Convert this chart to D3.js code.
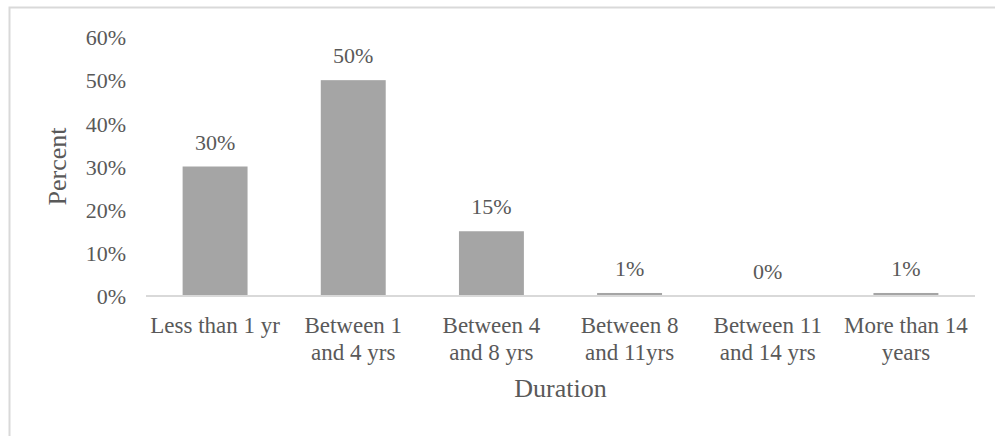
<!DOCTYPE html>
<html>
<head>
<meta charset="utf-8">
<script src="https://cdn.jsdelivr.net/npm/d3@7"></script>
<style>
  html, body { margin: 0; padding: 0; background: #fff; }
  svg { display: block; }
  text { font-family: "Liberation Serif", "Times New Roman", serif; fill: #595959; }
</style>
</head>
<body>
<svg id="chart" width="995" height="436"></svg>
<script>
const categories = [
  ["Less than 1 yr"],
  ["Between 1", "and 4 yrs"],
  ["Between 4", "and 8 yrs"],
  ["Between 8", "and 11yrs"],
  ["Between 11", "and 14 yrs"],
  ["More than 14", "years"]
];
const values = [30, 50, 15, 0.7, 0, 0.7];
const tickValues = [0, 10, 20, 30, 40, 50, 60];
const xTitle = "Duration";
const yTitle = "Percent";

const svg = d3.select("#chart");
const m = { left: 146, top: 37 };
const plotR = 975, plotB = 296;

// frame
svg.append("rect")
  .attr("x", 9.5).attr("y", 7.5)
  .attr("width", 1000).attr("height", 500)
  .attr("fill", "none").attr("stroke", "#d9d9d9").attr("stroke-width", 2);

const x = d3.scaleBand()
  .domain(d3.range(categories.length))
  .range([m.left, plotR])
  .paddingInner(0.53).paddingOuter(0.265);

const y = d3.scaleLinear().domain([0, 60]).range([plotB, m.top]);

// y axis labels
const yAxis = d3.axisLeft(y).tickValues(tickValues).tickFormat(d => d + "%").tickSize(0).tickPadding(0);
const gy = svg.append("g").attr("transform", "translate(126,0)").call(yAxis);
gy.select(".domain").remove();
gy.selectAll("text")
  .attr("font-family", "Liberation Serif").attr("font-size", 22).attr("fill", "#595959")
  .attr("dy", "0.35em");

// bars
svg.append("g").selectAll("rect").data(values).join("rect")
  .attr("x", (d, i) => x(i))
  .attr("y", d => y(d))
  .attr("width", x.bandwidth())
  .attr("height", d => y(0) - y(d))
  .attr("fill", "#a5a5a5");

// x axis line
const xAxis = d3.axisBottom(x).tickSize(0).tickFormat("");
const gx = svg.append("g").attr("transform", `translate(0,${plotB})`).call(xAxis);
gx.select(".domain").attr("stroke", "#d9d9d9").attr("stroke-width", 2).attr("d", `M${m.left},0H${plotR}`);

// category labels
const catG = svg.append("g");
categories.forEach((lines, i) => {
  const cx = x(i) + x.bandwidth() / 2;
  const t = catG.append("text")
    .attr("x", cx)
    .attr("y", 333)
    .attr("text-anchor", "middle")
    .attr("font-size", 23);
  lines.forEach((l, j) => {
    t.append("tspan").attr("x", cx).attr("dy", j === 0 ? 0 : 27).text(l);
  });
});

// data labels
svg.append("g").selectAll("text").data(values).join("text")
  .attr("x", (d, i) => x(i) + x.bandwidth() / 2)
  .attr("y", d => y(d) - 17)
  .attr("text-anchor", "middle")
  .attr("font-size", 22)
  .text(d => d3.format(".0f")(d) + "%");

// axis titles
svg.append("text")
  .attr("x", (m.left + plotR) / 2).attr("y", 397)
  .attr("text-anchor", "middle").attr("font-size", 26)
  .text(xTitle);

svg.append("text")
  .attr("transform", `translate(66,${(m.top + plotB) / 2}) rotate(-90)`)
  .attr("text-anchor", "middle").attr("font-size", 26)
  .text(yTitle);
</script>
</body>
</html>
